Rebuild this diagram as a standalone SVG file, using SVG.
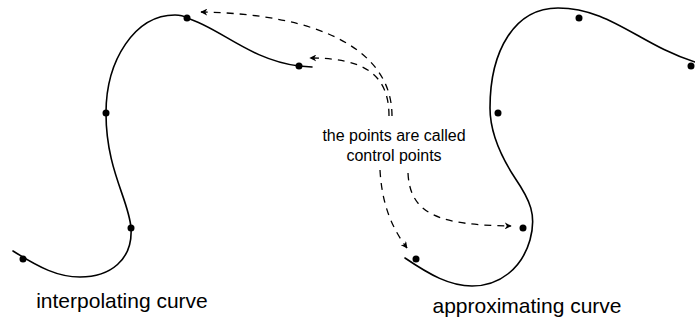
<svg xmlns="http://www.w3.org/2000/svg" width="695" height="320" viewBox="0 0 695 320">
  <style>
    .curve { fill: none; stroke: #000; stroke-width: 1.6; stroke-linecap: round; }
    .pt { fill: #000; }
    .lead { fill: none; stroke: #000; stroke-width: 1.3; stroke-dasharray: 7 6; }
    .label { font-family: "Liberation Sans", Arial, sans-serif; fill: #000; }
  </style>
  <defs>
    <marker id="tip" viewBox="0 0 10 10" refX="9" refY="5" markerWidth="7" markerHeight="7" markerUnits="userSpaceOnUse" orient="auto">
      <path d="M0,0 L10,5 L0,10 L3,5 Z" fill="#000"/>
    </marker>
  </defs>

  <!-- interpolating curve: passes through every point -->
  <g id="interpolating">
    <path class="curve" d="M13,251 C40,268 58,277 80,277 C110,277 133,260 131,228 C129,200 106,170 106,113 C106,60 135,15 175,15 C180,15 184,16 187,18 C220,28 250,60 299,66 L312,67"/>
    <circle class="pt" cx="23" cy="259" r="3.5"/>
    <circle class="pt" cx="131" cy="228" r="3.5"/>
    <circle class="pt" cx="106" cy="113" r="3.5"/>
    <circle class="pt" cx="187" cy="18" r="3.5"/>
    <circle class="pt" cx="299" cy="66" r="3.5"/>
    <text class="label" x="122" y="308" font-size="21" text-anchor="middle">interpolating curve</text>
  </g>

  <!-- approximating curve: pulled toward the points -->
  <g id="approximating">
    <path class="curve" d="M405,258 C430,275 450,286 472,286 C500,286 522,268 530,240 C537,215 530,200 515,178 C498,152 490,130 490,108 C490,50 515,8 558,8 C610,8 640,45 695,62"/>
    <circle class="pt" cx="416" cy="259" r="3.5"/>
    <circle class="pt" cx="523" cy="228" r="3.5"/>
    <circle class="pt" cx="498" cy="113" r="3.5"/>
    <circle class="pt" cx="579" cy="18" r="3.5"/>
    <circle class="pt" cx="691" cy="66" r="3.5"/>
    <text class="label" x="527" y="313" font-size="21" text-anchor="middle">approximating curve</text>
  </g>

  <!-- note -->
  <g id="note">
    <text class="label" x="394" y="141" font-size="16" text-anchor="middle">the points are called</text>
    <text class="label" x="394" y="161" font-size="16" text-anchor="middle">control points</text>
  </g>

  <!-- dashed leaders from the note to the points -->
  <g id="connectors">
    <path class="lead" d="M392,116 C392,50 320,14 201,12" marker-end="url(#tip)"/>
    <path class="lead" d="M389,116 C389,75 365,58 310,58" marker-end="url(#tip)"/>
    <path class="lead" d="M380,170 C382,205 392,228 407,248" marker-end="url(#tip)"/>
    <path class="lead" d="M408,173 C410,215 440,225 511,226" marker-end="url(#tip)"/>
  </g>
</svg>
